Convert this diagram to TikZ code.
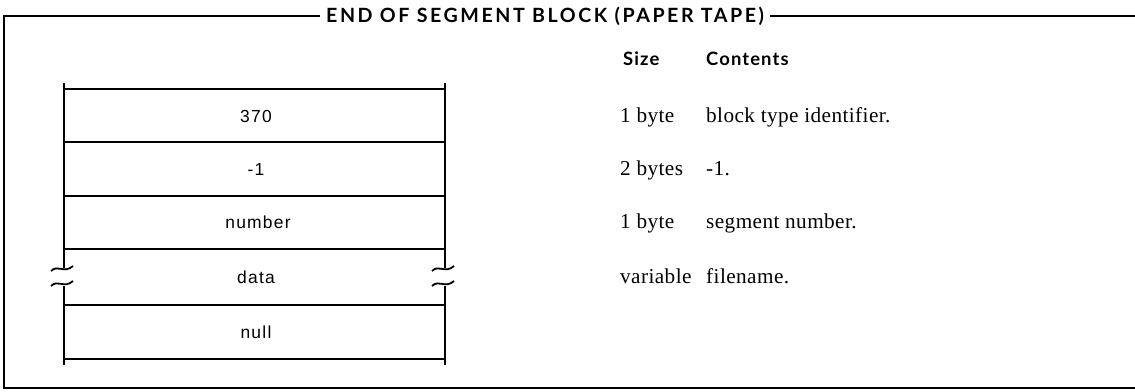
\documentclass[tikz,border=0pt]{standalone}
\usepackage{fontspec}
\newfontfamily\titlef{Lato}[LetterSpace=13]
\newfontfamily\hdrf{Lato}[LetterSpace=6]
\newfontfamily\tabf{Liberation Sans}[LetterSpace=7]
\newfontfamily\serf{Liberation Serif}[LetterSpace=2]
\begin{document}
\begin{tikzpicture}[x=1bp,y=-1bp,
  frame/.style={line width=1.3bp},
  tline/.style={line width=1.8bp},
  cell/.style={font=\tabf\fontsize{17.5}{20}\selectfont, inner sep=0pt},
  hdr/.style={font=\hdrf\bfseries\fontsize{18.5}{22}\selectfont, anchor=base west, inner sep=0pt},
  sz/.style={font=\serf\fontsize{21.3}{25}\selectfont, anchor=base west, inner sep=0pt},
  ttl/.style={font=\titlef\bfseries\fontsize{19.7}{22}\selectfont, inner sep=0pt, anchor=base west}]
\useasboundingbox (0,0) rectangle (1135,391);
% frame
\node[ttl] (title) at (326,22.5) {END OF SEGMENT BLOCK (PAPER TAPE)};
\draw[frame] (title.west |- 0,16) ++(-6,0) -- (4,16) -- (4,388) -- (1135,388);
\draw[frame] (title.east |- 0,16) ++(6,0) -- (1135,16);
% table verticals with breaks
\draw[tline] (64,83) -- (64,268);
\draw[tline] (64,286) -- (64,365);
\draw[tline] (445,83) -- (445,268);
\draw[tline] (445,286) -- (445,365);
\foreach \x in {64,445}{
  \draw[line width=1.8bp] (\x-13,271) .. controls (\x-6,264) and (\x,274) .. (\x+9,266);
  \draw[line width=1.8bp] (\x-13,286) .. controls (\x-6,279) and (\x,289) .. (\x+9,281);
}
% horizontals
\foreach \y in {89,142,196,249,305,359}{
  \draw[tline] (64,\y) -- (445,\y);
}
\node[cell] (c1) at (256,116) {370};
\node[cell] (c2) at (256,169) {-1};
\node[cell] (c3) at (258,222) {number};
\node[cell] (c4) at (256,277) {data};
\node[cell] (c5) at (256,332) {null};
% right columns
\node[hdr] (hs) at (623,65) {Size};
\node[hdr] (hc) at (706,65) {Contents};
\node[sz] (s1) at (620,122) {1 byte};
\node[sz] (s2) at (620,175) {2 bytes};
\node[sz] (s3) at (620,228) {1 byte};
\node[sz] (s4) at (620,283) {variable};
\node[sz] (d1) at (706,122) {block type identifier.};
\node[sz] (d2) at (706,175) {-1.};
\node[sz] (d3) at (706,228) {segment number.};
\node[sz] (d4) at (706,283) {filename.};
\end{tikzpicture}
\end{document}
